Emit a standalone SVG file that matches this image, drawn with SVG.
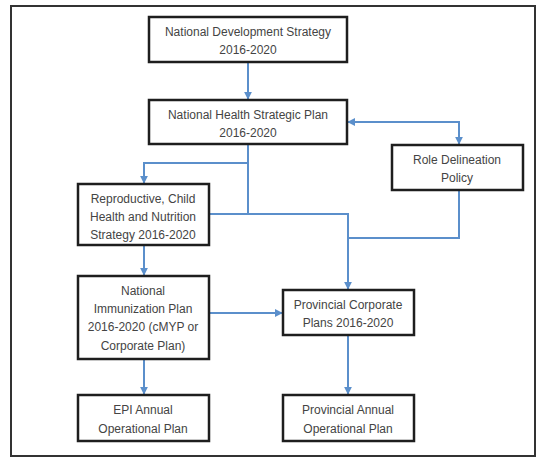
<svg xmlns="http://www.w3.org/2000/svg" width="537" height="468" viewBox="0 0 537 468">
<style>
.box{fill:#fff;stroke:#1e1e1e;stroke-width:2.5}
.t{font-family:"Liberation Sans",Arial,sans-serif;font-size:12px;fill:#444;text-anchor:middle}
.c{fill:none;stroke:#5b8fcb;stroke-width:2}
</style>
<defs>
<marker id="ah" viewBox="0 0 10 10" refX="9" refY="5" markerWidth="4" markerHeight="4" orient="auto-start-reverse" markerUnits="strokeWidth">
<path d="M0,0 L10,5 L0,10 z" fill="#5b8fcb"/>
</marker>
</defs>
<rect x="11" y="6" width="524" height="450" fill="#fff" stroke="#333" stroke-width="2"/>
<g id="connectors">
<path class="c" d="M248,62 V99" marker-end="url(#ah)"/>
<path class="c" d="M348,122 H459 V144" marker-start="url(#ah)" marker-end="url(#ah)"/>
<path class="c" d="M248,144 V163 H144 V183" marker-end="url(#ah)"/>
<path class="c" d="M248,163 V214 H348 V289" marker-end="url(#ah)"/>
<path class="c" d="M209,214 H248"/>
<path class="c" d="M459,190 V238 H348"/>
<path class="c" d="M144,245 V275" marker-end="url(#ah)"/>
<path class="c" d="M209,313 H282" marker-end="url(#ah)"/>
<path class="c" d="M144,359 V394" marker-end="url(#ah)"/>
<path class="c" d="M348,335 V394" marker-end="url(#ah)"/>
</g>
<g id="nds"><rect class="box" x="149" y="17" width="198" height="45"/>
<text class="t" x="248" y="36">National Development Strategy</text><text class="t" x="248" y="54">2016-2020</text></g>
<g id="nhsp"><rect class="box" x="149" y="100" width="198" height="44"/>
<text class="t" x="248" y="119">National Health Strategic Plan</text><text class="t" x="248" y="137">2016-2020</text></g>
<g id="role"><rect class="box" x="392" y="145" width="131" height="45"/>
<text class="t" x="457" y="164">Role Delineation</text><text class="t" x="457" y="182">Policy</text></g>
<g id="rchn"><rect class="box" x="78" y="184" width="131" height="61"/>
<text class="t" x="143" y="203">Reproductive, Child</text><text class="t" x="143" y="221">Health and Nutrition</text><text class="t" x="143" y="239">Strategy 2016-2020</text></g>
<g id="nip"><rect class="box" x="78" y="276" width="131" height="83"/>
<text class="t" x="143" y="295">National</text><text class="t" x="143" y="313">Immunization Plan</text><text class="t" x="143" y="331">2016-2020 (cMYP or</text><text class="t" x="143" y="350">Corporate Plan)</text></g>
<g id="epi"><rect class="box" x="78" y="395" width="131" height="46"/>
<text class="t" x="143" y="414">EPI Annual</text><text class="t" x="143" y="433">Operational Plan</text></g>
<g id="pc"><rect class="box" x="283" y="290" width="131" height="45"/>
<text class="t" x="348" y="309">Provincial Corporate</text><text class="t" x="348" y="327">Plans 2016-2020</text></g>
<g id="pa"><rect class="box" x="283" y="395" width="131" height="46"/>
<text class="t" x="348" y="414">Provincial Annual</text><text class="t" x="348" y="433">Operational Plan</text></g>
</svg>
